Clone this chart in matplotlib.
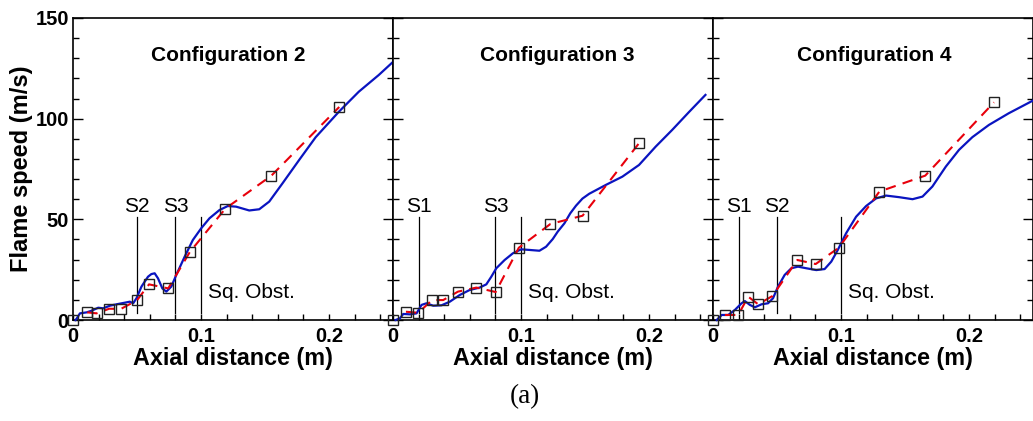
import numpy as np
import matplotlib
matplotlib.use("Agg")
import matplotlib.pyplot as plt
from matplotlib.ticker import MultipleLocator

plt.rcParams['font.family'] = ['Liberation Sans', 'DejaVu Sans']

# Configuration 2
sim_x2 = [0.002, 0.003, 0.0054, 0.0107, 0.0145, 0.0197, 0.0236, 0.0288, 0.034, 0.0405,
          0.0444, 0.047, 0.0496, 0.0535, 0.0586, 0.0612, 0.0638, 0.0664, 0.0698, 0.0729,
          0.0768, 0.0807, 0.0872, 0.0936, 0.1001, 0.1066, 0.1144, 0.1209, 0.1274, 0.1377,
          0.1455, 0.1533, 0.1637, 0.1767, 0.1896, 0.2078, 0.2233, 0.2389, 0.25]
sim_v2 = [0.0, 0.8, 3.3, 3.8, 4.6, 6.1, 5.8, 7.1, 7.8, 8.6,
          9.1, 8.3, 10.8, 16.6, 21.5, 22.8, 23.2, 20.7, 15.7, 14.1,
          16.6, 22.4, 31.4, 39.7, 45.5, 50.5, 54.6, 56.6, 56.3, 54.4,
          55.0, 58.8, 67.9, 79.5, 90.8, 103.5, 113.4, 121.7, 128.2]
exp_x2 = [0, 0.0111, 0.0184, 0.0283, 0.0374, 0.050, 0.0594, 0.0744, 0.0913, 0.119, 0.155, 0.208]
exp_v2 = [0, 3.8, 3.3, 5.6, 5.5, 9.8, 17.7, 15.7, 33.8, 55.3, 71.7, 105.8]

# Configuration 3
sim_x3 = [0.002, 0.0054, 0.008, 0.0132, 0.0184, 0.0223, 0.0262, 0.0314, 0.0379, 0.0444,
          0.0521, 0.0599, 0.0677, 0.0729, 0.0768, 0.0807, 0.0872, 0.0936, 0.1001, 0.1066,
          0.1144, 0.1196, 0.1248, 0.1287, 0.1339, 0.1385, 0.143, 0.148, 0.1533, 0.1663,
          0.1792, 0.1922, 0.2052, 0.2181, 0.2311, 0.2441]
sim_v3 = [0.0, 0.8, 3.0, 2.8, 3.3, 7.5, 8.3, 7.1, 7.3, 9.1,
          12.4, 14.9, 16.1, 17.7, 21.5, 25.7, 29.8, 33.1, 35.1, 34.8,
          34.4, 36.4, 40.2, 43.9, 48.0, 53.0, 56.8, 60.3, 62.7, 67.1,
          71.2, 77.0, 86.1, 94.4, 103.2, 111.8]
exp_x3 = [0, 0.0101, 0.0197, 0.0306, 0.0392, 0.0508, 0.0651, 0.0802, 0.0983, 0.123, 0.1481, 0.1922]
exp_v3 = [0, 4.1, 3.6, 9.9, 9.9, 14.1, 16.1, 13.9, 35.9, 47.7, 51.8, 87.8]

# Configuration 4
sim_x4 = [0.0029, 0.0068, 0.0119, 0.0171, 0.0223, 0.0249, 0.0288, 0.0327, 0.0379, 0.043,
          0.0469, 0.0508, 0.056, 0.0612, 0.0664, 0.0729, 0.0807, 0.0872, 0.0924, 0.0975,
          0.104, 0.1118, 0.1196, 0.1274, 0.1352, 0.1455, 0.1559, 0.1637, 0.1714, 0.1819,
          0.1922, 0.2026, 0.2156, 0.2311, 0.25]
sim_v4 = [0.0, 2.5, 2.5, 5.0, 8.3, 9.4, 7.5, 6.3, 7.8, 8.3,
          10.8, 16.6, 22.4, 25.7, 26.5, 25.7, 24.8, 25.3, 29.0, 34.8,
          43.1, 51.3, 56.6, 60.4, 61.8, 61.0, 60.0, 61.3, 66.3, 76.2,
          84.5, 90.8, 96.9, 102.7, 109.0]
exp_x4 = [0, 0.0093, 0.0197, 0.0275, 0.0353, 0.0464, 0.0659, 0.0802, 0.0983, 0.13, 0.1658, 0.2195]
exp_v4 = [0, 2.5, 2.5, 11.6, 7.8, 11.9, 29.8, 27.8, 35.9, 63.8, 71.7, 108.1]

titles = ["Configuration 2", "Configuration 3", "Configuration 4"]
markers_pos = [[0.05, 0.08], [0.02, 0.08], [0.02, 0.05]]
markers_lab = [["S2", "S3"], ["S1", "S3"], ["S1", "S2"]]
obstacle_x = 0.1

panels = [
    (sim_x2, sim_v2, exp_x2, exp_v2),
    (sim_x3, sim_v3, exp_x3, exp_v3),
    (sim_x4, sim_v4, exp_x4, exp_v4),
]
title_x = [0.484, 0.514, 0.503]

W, H = 1033, 421
fig = plt.figure(figsize=(W / 100, H / 100), dpi=100)

left, bottom, pw, ph = 73 / W, 1 - 320 / H, 320 / W, 302 / H

for i, (sx, sv, ex, ev) in enumerate(panels):
    ax = fig.add_axes([left + i * pw, bottom, pw, ph])
    ax.set_xlim(0, 0.25)
    ax.set_ylim(0, 150)

    ax.plot(sx, sv, color='#0a14c0', lw=1.6, zorder=3, clip_on=False)
    ax.plot(ex[1:], ev[1:], color='#e8000b', lw=1.5, ls=(0, (5, 3.5)), zorder=4)
    ax.plot(ex, ev, ls='none', marker='s', ms=7, mfc='none', mec='#222222',
            mew=1.0, zorder=5, clip_on=False)

    # sensor positions and the square obstacle
    for xp, lab in zip(markers_pos[i], markers_lab[i]):
        ax.plot([xp, xp], [3.5, 51.3], color='black', lw=0.9, zorder=2)
        ax.text(xp, 53.5, lab, ha='center', va='baseline', fontsize=15)
    ax.plot([obstacle_x, obstacle_x], [3.5, 51.3], color='black', lw=0.9, zorder=2)
    ax.text(0.1055, 11, "Sq. Obst.", ha='left', va='baseline', fontsize=15)

    ax.text(title_x[i], 0.877, titles[i], transform=ax.transAxes, ha='center',
            va='center', fontsize=15, fontweight='bold')

    ax.xaxis.set_minor_locator(MultipleLocator(0.02))
    ax.yaxis.set_major_locator(MultipleLocator(50))
    ax.yaxis.set_minor_locator(MultipleLocator(10))
    ax.set_xticks([0, 0.1, 0.2])
    ax.set_xticklabels(["0", "0.1", "0.2"])
    ax.tick_params(which='both', direction='in', left=True, right=True,
                   top=False, bottom=True, width=1.0, colors='black')
    ax.tick_params(which='major', length=7, labelsize=14.5, pad=5)
    ax.tick_params(which='minor', length=4.5)
    ax.tick_params(axis='x', which='major', length=4.5)
    for lbl in ax.get_xticklabels() + ax.get_yticklabels():
        lbl.set_fontweight('bold')
    if i > 0:
        ax.tick_params(axis='y', labelleft=False)
    else:
        ax.tick_params(axis='y', pad=3)
    for sp in ax.spines.values():
        sp.set_linewidth(1.2)

    ax.set_xlabel("Axial distance (m)", fontsize=16.8, fontweight='bold', labelpad=1)

fig.text(22 / W, 1 - 169 / H, "Flame speed (m/s)", rotation=90, ha='center',
         va='center', fontsize=17, fontweight='bold')
fig.text(525 / W, 1 - 397 / H, "(a)", ha='center', va='center', fontsize=19.5,
         family=['Liberation Serif', 'DejaVu Serif'])

fig.savefig("out.png", dpi=100)
